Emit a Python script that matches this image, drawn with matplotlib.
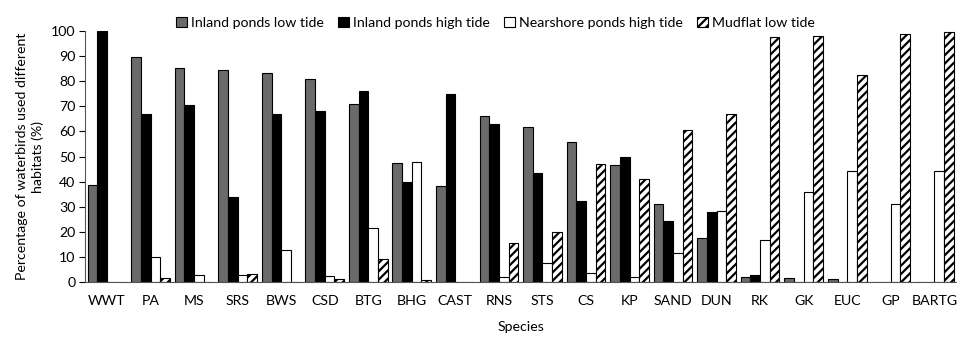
import matplotlib
matplotlib.use("Agg")
import matplotlib.pyplot as plt
import numpy as np

plt.rcParams["font.family"] = ["Lato", "DejaVu Sans"]
plt.rcParams["hatch.linewidth"] = 1.6

species = ["WWT", "PA", "MS", "SRS", "BWS", "CSD", "BTG", "BHG", "CAST", "RNS",
           "STS", "CS", "KP", "SAND", "DUN", "RK", "GK", "EUC", "GP", "BARTG"]

inland_low = [38.9, 89.8, 85.3, 84.6, 83.4, 80.8, 70.8, 47.3, 38.5, 66.3,
              61.8, 56.0, 46.8, 31.0, 17.5, 2.1, 1.9, 1.2, 0.0, 0.0]
inland_high = [100.0, 67.0, 70.7, 33.8, 67.0, 68.0, 76.1, 40.1, 74.9, 63.1,
               43.5, 32.3, 49.9, 24.3, 27.8, 2.9, 0.0, 0.3, 0.0, 0.0]
nearshore_high = [0.3, 9.9, 2.9, 2.9, 12.7, 2.6, 21.5, 47.7, 0.0, 2.2,
                  7.9, 3.8, 2.2, 11.8, 28.4, 16.8, 36.1, 44.3, 31.0, 44.2]
mudflat_low = [0.0, 1.9, 0.3, 3.4, 0.0, 1.2, 9.1, 1.0, 0.0, 15.5,
               20.2, 47.2, 41.1, 60.6, 67.1, 97.7, 98.1, 82.3, 98.8, 99.7]

series_names = ["Inland ponds low tide", "Inland ponds high tide",
                "Nearshore ponds high tide", "Mudflat low tide"]

fig = plt.figure(figsize=(9.58, 3.39), dpi=100)
ax = fig.add_axes([0.089, 0.167, 0.909, 0.742])

x = np.arange(len(species))
w = 0.222
styles = [
    dict(color="#6a6a6a", edgecolor="black"),
    dict(color="black", edgecolor="black"),
    dict(color="white", edgecolor="black"),
    dict(color="white", edgecolor="black", hatch="////"),
]
data = [inland_low, inland_high, nearshore_high, mudflat_low]
for i, (vals, st, name) in enumerate(zip(data, styles, series_names)):
    ax.bar(x + (i - 1.5) * w, vals, width=w, linewidth=0.8, label=name, **st)

fs = 10.2
ax.set_xlim(-0.5, len(species) - 0.5)
ax.set_ylim(0, 100)
ax.set_yticks(np.arange(0, 101, 10))
ax.set_xticks(x)
ax.set_xticklabels(species)
ax.tick_params(axis="x", length=0, pad=9, labelsize=fs)
ax.tick_params(axis="y", length=4, width=0.8, pad=3, labelsize=fs, direction="out")
for s in ["top", "right"]:
    ax.spines[s].set_visible(False)
for s in ["left", "bottom"]:
    ax.spines[s].set_linewidth(0.8)
    ax.spines[s].set_color("#555555")

ax.set_xlabel("Species", fontsize=fs, labelpad=10)
ax.set_ylabel("Percentage of waterbirds used different\nhabitats (%)", fontsize=fs,
              labelpad=5, linespacing=1.35)

leg = ax.legend(loc="lower center", bbox_to_anchor=(0.471, 0.985), ncol=4, frameon=False,
                fontsize=fs, handlelength=0.75, handleheight=0.75, handletextpad=0.3,
                columnspacing=1.0, borderaxespad=0)

fig.savefig("out.png", dpi=100)
